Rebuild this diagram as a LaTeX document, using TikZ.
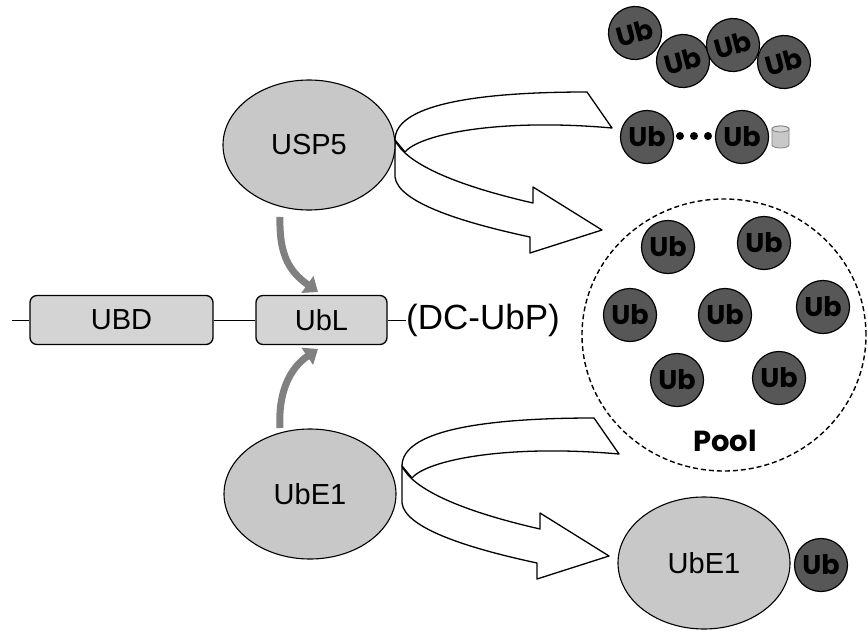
\documentclass[tikz,border=0pt]{standalone}
\usepackage{fontspec}
\setmainfont{Liberation Sans}
\newfontfamily\ubfont{Poppins}
\usetikzlibrary{shapes.geometric,arrows.meta}
\definecolor{ellgray}{HTML}{C8C8C8}
\definecolor{boxgray}{HTML}{D4D4D4}
\definecolor{ubgray}{HTML}{575757}
\definecolor{arrgray}{HTML}{808080}
\definecolor{cylgray}{HTML}{C8C8C8}
\tikzset{
  enz/.style={ellipse, draw=black, line width=1.1pt, fill=ellgray, inner sep=0pt,
    minimum width=172pt, minimum height=130pt, font=\fontsize{29}{29}\selectfont},
  dom/.style={rectangle, rounded corners=7pt, draw=black, line width=1.3pt, fill=boxgray,
    minimum height=49pt, inner sep=0pt, font=\fontsize{29}{29}\selectfont},
  ub/.style={circle, draw=black, line width=1.2pt, fill=ubgray, inner sep=0pt,
    minimum size=53pt, font=\ubfont\bfseries\fontsize{27}{27}\selectfont},
  ribbonstyle/.style={draw=black, line width=1.3pt, fill=white, line join=round},
  grayarrow/.style={draw=arrgray, line width=7pt,
    -{Triangle[length=13pt,width=20pt]}},
  link/.style={draw=black, line width=1pt},
  ribbon/.pic={
    \path[ribbonstyle] (395,140) .. controls (395,106) and (470,92) .. (587,92)
       -- (612,128) .. controls (500,118) and (420,134) .. (405,152) -- cycle;
    \path[ribbonstyle] (395,140) .. controls (405,162) and (450,184) .. (533,203)
       -- (533,187) -- (602,230) -- (530,253) -- (530,237)
       .. controls (460,222) and (398,202) .. (395,177) -- cycle;
  }
}
\begin{document}
\begin{tikzpicture}[x=1pt,y=-1pt]
\useasboundingbox (0,0) rectangle (868,632);

% pool
\node[ellipse, draw=black, line width=1.4pt, dash pattern=on 5pt off 3pt,
  minimum width=284pt, minimum height=272pt, inner sep=0pt] (pool) at (724,335) {};
\node[font=\ubfont\bfseries\fontsize{29}{29}\selectfont] (pooltext) at (725,441) {Pool};
\node[ub] (p1) at (668,247) {Ub};
\node[ub] (p2) at (764,243) {Ub};
\node[ub] (p3) at (630,315) {Ub};
\node[ub] (p4) at (725,315) {Ub};
\node[ub] (p5) at (823,307) {Ub};
\node[ub] (p6) at (677,380) {Ub};
\node[ub] (p7) at (779,378) {Ub};

% big hollow arrows
\pic at (0,0) {ribbon};
\pic at (7,326) {ribbon};

% enzymes
\node[enz] (usp5) at (309,145) {USP5};
\node[enz] (ube1) at (310,494) {UbE1};
\node[enz, minimum height=132pt] (ube1b) at (704,563) {UbE1};
\node[ub] (ubb) at (821,565) {Ub};

% domains
\node[dom, minimum width=183pt] (ubd) at (121.5,320) {UBD};
\node[dom, minimum width=131pt] (ubl) at (321.5,320) {UbL};
\node[anchor=west, font=\fontsize{35}{35}\selectfont, inner sep=0pt] (dcubp) at (406,320) {(DC-UbP)};
\coordinate (lend) at (12,320);
\draw[link] (lend) -- (ubd.west);
\draw[link] (ubd.east) -- (ubl.west);
\draw[link] (ubl.east) -- (dcubp.west);

% gray curved arrows
\coordinate (a1s) at (280,217);
\coordinate (a1e) at (318,292);
\coordinate (a2s) at (280,428);
\coordinate (a2e) at (318,349);
\draw[grayarrow] (a1s) .. controls (279,256) and (290,272) .. (a1e);
\draw[grayarrow] (a2s) .. controls (278,392) and (290,368) .. (a2e);

% chain of Ub (top right)
\node[ub, rotate=15] (c1) at (635,33) {Ub};
\node[ub, rotate=15] (c2) at (683,61) {Ub};
\node[ub, rotate=15] (c3) at (733,45) {Ub};
\node[ub, rotate=15] (c4) at (784,62) {Ub};

% linear chain
\node[ub] (l1) at (647,137) {Ub};
\node[ub] (l2) at (742,137) {Ub};
\node[circle, fill=black, inner sep=0pt, minimum size=8pt] (d1) at (680,136) {};
\node[circle, fill=black, inner sep=0pt, minimum size=8pt] (d2) at (694,136) {};
\node[circle, fill=black, inner sep=0pt, minimum size=8pt] (d3) at (708,136) {};
% cylinder tag
\path[fill=cylgray, draw=gray, line width=0.8pt]
  (772,129) -- (772,145) arc[start angle=180, end angle=360, x radius=8.5pt, y radius=3pt]
  -- (789,129) arc[start angle=0, end angle=180, x radius=8.5pt, y radius=3pt] -- cycle;
\draw[gray, line width=0.8pt, fill=cylgray!70!white] (780.5,129) ellipse[x radius=8.5pt, y radius=3pt];
\end{tikzpicture}
\end{document}
